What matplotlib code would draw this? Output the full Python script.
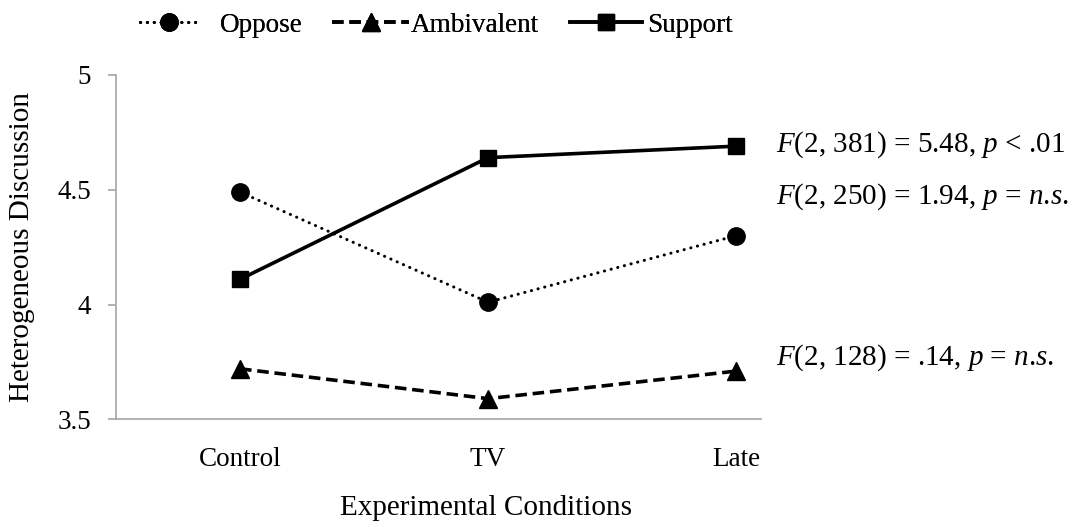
import matplotlib
matplotlib.use("Agg")
import matplotlib.pyplot as plt

categories = ["Control", "TV", "Late"]
oppose = [4.49, 4.01, 4.30]
ambivalent = [3.72, 3.59, 3.71]
support = [4.11, 4.64, 4.69]
series_names = ["Oppose", "Ambivalent", "Support"]
yticks = [3.5, 4, 4.5, 5]
ytick_labels = ["3.5", "4", "4.5", "5"]
annotations = [
    r"$\mathit{F}$(2, 381) = 5.48, $\mathit{p}$ < .01",
    r"$\mathit{F}$(2, 250) = 1.94, $\mathit{p}$ = $\mathit{n}$.$\mathit{s}$.",
    r"$\mathit{F}$(2, 128) = .14, $\mathit{p}$ = $\mathit{n}$.$\mathit{s}$.",
]

plt.rcParams["font.family"] = ["Liberation Serif", "DejaVu Serif"]
plt.rcParams["mathtext.fontset"] = "custom"
plt.rcParams["mathtext.rm"] = "Liberation Serif"
plt.rcParams["mathtext.it"] = "Liberation Serif:italic"

W, H = 1073, 527
fig = plt.figure(figsize=(W / 100, H / 100), dpi=100)
ax = fig.add_axes([116 / W, 1 - 419.3 / H, (761 - 116) / W, (419.3 - 75) / H])

x = list(range(len(categories)))
fs = 19.5
fs_title = 21
axis_gray = "#A6A6A6"

l1, = ax.plot(x, oppose, color="black", lw=2.2, marker="o", ms=12.5,
              dashes=(0.05, 2.2), dash_capstyle="round", label=series_names[0])
l2, = ax.plot(x, ambivalent, color="black", lw=2.6, marker="^", ms=12.5,
              dashes=(3.2, 1.6), label=series_names[1])
l3, = ax.plot(x, support, color="black", lw=2.6, marker="s", ms=11.5,
              label=series_names[2])

ax.set_xlim(-0.5, 2.1)
ax.set_ylim(3.5, 5)
ax.set_xticks(x)
ax.set_xticklabels(categories, fontsize=fs)
ax.set_yticks(yticks)
ax.set_yticklabels(ytick_labels, fontsize=fs)

for s in ["top", "right"]:
    ax.spines[s].set_visible(False)
for s in ["left", "bottom"]:
    ax.spines[s].set_color(axis_gray)
    ax.spines[s].set_linewidth(1.2)

ax.tick_params(axis="x", length=0, pad=20)
ax.tick_params(axis="y", direction="out", length=6, width=1.2, color=axis_gray, pad=12)

fig.text(22 / W, 1 - 247 / H, "Heterogeneous Discussion", rotation=90,
         ha="center", va="center", fontsize=fs_title)
fig.text(486.5 / W, 1 - 515 / H, "Experimental Conditions",
         ha="center", va="baseline", fontsize=fs_title)

ann_y = [145, 197, 358]
for txt, yy in zip(annotations, ann_y):
    fig.text(776 / W, 1 - yy / H, txt, ha="left", va="center", fontsize=fs_title)

# legend entries (Excel-style uneven spacing)
leg_specs = [
    (l1, 140, 2.15, 0.8),
    (l2, 332, 2.85, 0.05),
    (l3, 570, 2.65, 0.2),
]
for h, x0, hl, tp in leg_specs:
    leg = fig.legend(handles=[h], loc="center left", bbox_to_anchor=(x0 / W, 1 - 25 / H),
                     frameon=False, fontsize=fs, handlelength=hl, handletextpad=tp,
                     borderpad=0, borderaxespad=0)
    fig.add_artist(leg)

fig.savefig("out.png", dpi=100)
